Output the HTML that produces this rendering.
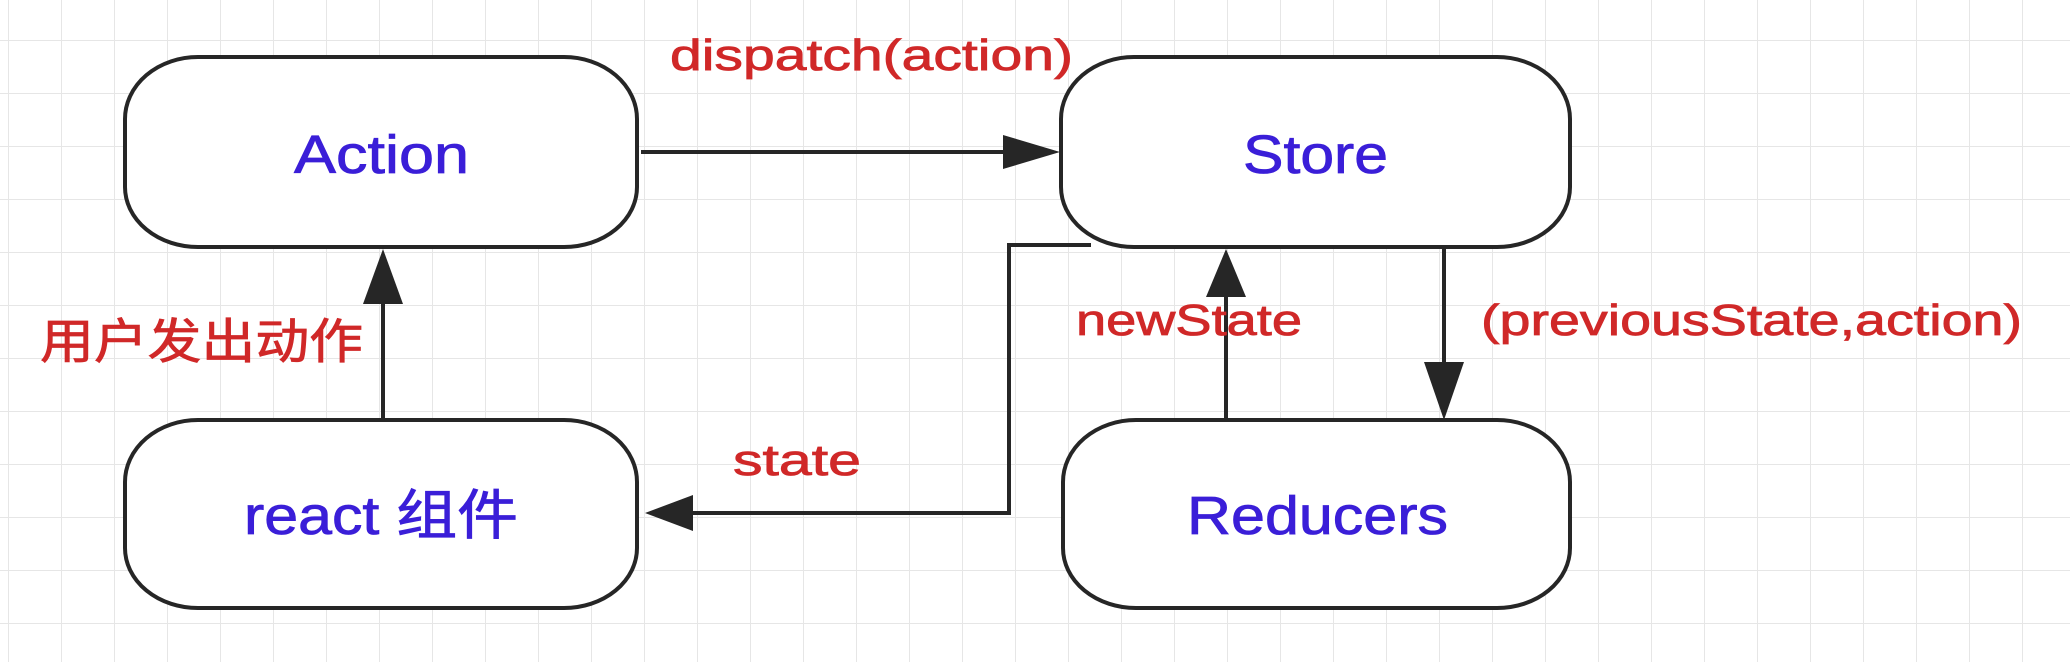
<!DOCTYPE html>
<html><head><meta charset="utf-8"><style>
html,body{margin:0;padding:0;background:#fff}
svg{display:block}
</style></head><body>
<svg width="2070" height="662" viewBox="0 0 2070 662" xmlns="http://www.w3.org/2000/svg">
<defs>
<pattern id="g" x="8" y="40" width="53" height="53" patternUnits="userSpaceOnUse">
<path d="M0 0H53M0 0V53" stroke="#e6e6e6" stroke-width="2" fill="none"/>
</pattern>
</defs>
<rect width="2070" height="662" fill="url(#g)"/>
<g fill="#fff" stroke="#262626" stroke-width="4">
<path d="M198 57H564A73 62 0 0 1 637 119V187A73 60 0 0 1 564 247H198A73 60 0 0 1 125 187V119A73 62 0 0 1 198 57Z"/>
<path d="M198 420H564A73 62 0 0 1 637 482V548A73 60 0 0 1 564 608H198A73 60 0 0 1 125 548V482A73 62 0 0 1 198 420Z"/>
<path d="M1134 57H1497A73 62 0 0 1 1570 119V187A73 60 0 0 1 1497 247H1134A73 60 0 0 1 1061 187V119A73 62 0 0 1 1134 57Z"/>
<path d="M1136 420H1497A73 62 0 0 1 1570 482V548A73 60 0 0 1 1497 608H1136A73 60 0 0 1 1063 548V482A73 62 0 0 1 1136 420Z"/>
</g>
<g stroke="#262626" stroke-width="4" fill="none">
<path d="M641 152H1005"/>
<path d="M383 420V300"/>
<path d="M1091 245H1009V513H690"/>
<path d="M1226 420V292"/>
<path d="M1444 249V366"/>
</g>
<g fill="#262626">
<path d="M1060 152L1003 135V169Z"/>
<path d="M383 249L363 304H403Z"/>
<path d="M645 513L693 495V531Z"/>
<path d="M1226 249L1206 297H1246Z"/>
<path d="M1444 420L1424 362H1464Z"/>
</g>
<g font-family="'Liberation Sans','Noto Sans CJK SC',sans-serif" fill="#3a1ed8" stroke="#3a1ed8" stroke-width="0.8" font-size="54">
<text x="294" y="173" textLength="175" lengthAdjust="spacingAndGlyphs">Action</text>
<text x="244" y="534" textLength="274" lengthAdjust="spacingAndGlyphs">react 组件</text>
<text x="1243" y="173" textLength="145" lengthAdjust="spacingAndGlyphs">Store</text>
<text x="1187" y="534" textLength="261" lengthAdjust="spacingAndGlyphs">Reducers</text>
</g>
<g font-family="'Liberation Sans','Noto Sans CJK SC',sans-serif" fill="#d02828" stroke="#d02828" stroke-width="0.8" font-size="44">
<text x="670" y="70" textLength="403" lengthAdjust="spacingAndGlyphs">dispatch(action)</text>
<text x="40" y="358" font-size="48" textLength="323" lengthAdjust="spacingAndGlyphs">用户发出动作</text>
<text x="733" y="475" textLength="128" lengthAdjust="spacingAndGlyphs">state</text>
<text x="1076" y="335" textLength="226" lengthAdjust="spacingAndGlyphs">newState</text>
<text x="1481" y="335" textLength="541" lengthAdjust="spacingAndGlyphs">(previousState,action)</text>
</g>
</svg>
</body></html>
